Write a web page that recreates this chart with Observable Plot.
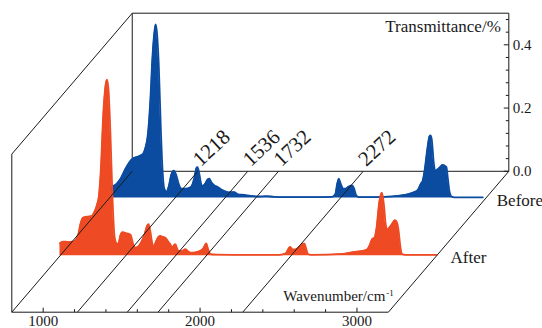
<!DOCTYPE html>
<html><head><meta charset="utf-8">
<script src="https://cdn.jsdelivr.net/npm/d3@7"></script>
<script src="https://cdn.jsdelivr.net/npm/@observablehq/plot@0.6"></script>
<style>html,body{margin:0;padding:0;background:#fff}#chart svg{display:block}</style>
</head><body><div id="chart"></div>
<script>
// ---- data ----
const wnBefore = [800,820,840,870,900,930,950,975,1000,1015,1030,1045,1060,1075,1088,1095,1102,1115,1128,1140,1150,1165,1180,1195,1212,1228,1245,1260,1290,1320,1340,1355,1362,1372,1385,1395,1410,1425,1437,1450,1470,1490,1520,1560,1595,1620,1660,1700,1750,1800,1850,1900,2000,2100,2220,2240,2252,2263,2275,2290,2305,2325,2345,2360,2372,2390,2500,2600,2650,2700,2740,2765,2785,2797,2810,2825,2840,2847,2855,2868,2880,2895,2912,2925,2935,2948,2958,2968,2980,3000,3100,3180];
const tBefore  = [0.035,0.038,0.042,0.06,0.09,0.115,0.125,0.13,0.135,0.14,0.16,0.2,0.3,0.45,0.53,0.549,0.53,0.42,0.22,0.08,0.03,0.02,0.04,0.075,0.087,0.07,0.04,0.03,0.03,0.035,0.06,0.095,0.098,0.08,0.045,0.038,0.045,0.058,0.061,0.05,0.04,0.035,0.025,0.018,0.019,0.012,0.01,0.007,0.005,0.006,0.004,0.003,0.003,0.003,0.004,0.012,0.045,0.061,0.045,0.03,0.03,0.036,0.04,0.03,0.01,0.003,0.003,0.005,0.008,0.012,0.018,0.025,0.045,0.055,0.09,0.15,0.195,0.198,0.185,0.11,0.087,0.092,0.1,0.105,0.103,0.098,0.06,0.02,0.005,0.002,0.002,0.002];
const wnAfter = [800,820,850,880,900,915,930,945,960,975,990,1005,1020,1035,1048,1060,1075,1088,1100,1110,1122,1135,1148,1160,1172,1185,1200,1218,1235,1250,1265,1280,1300,1320,1340,1355,1365,1375,1388,1398,1412,1428,1440,1455,1470,1490,1505,1515,1527,1536,1545,1556,1575,1600,1620,1640,1670,1695,1715,1732,1745,1760,1800,2000,2200,2240,2258,2268,2282,2300,2325,2345,2357,2368,2380,2400,2600,2670,2720,2756,2775,2788,2805,2818,2835,2852,2865,2876,2887,2900,2915,2936,2948,2958,2968,2980,3000,3200];
const tAfter  = [0.04,0.045,0.044,0.045,0.05,0.065,0.1,0.12,0.123,0.124,0.125,0.127,0.14,0.16,0.19,0.27,0.44,0.53,0.557,0.52,0.38,0.18,0.06,0.04,0.038,0.065,0.075,0.072,0.07,0.066,0.04,0.026,0.03,0.045,0.07,0.095,0.1,0.08,0.04,0.03,0.045,0.06,0.063,0.06,0.058,0.045,0.035,0.025,0.034,0.037,0.025,0.015,0.015,0.021,0.013,0.01,0.012,0.016,0.025,0.039,0.02,0.005,0.004,0.003,0.003,0.008,0.024,0.028,0.02,0.02,0.028,0.037,0.039,0.025,0.006,0.003,0.006,0.012,0.015,0.02,0.035,0.052,0.058,0.09,0.17,0.2,0.16,0.1,0.084,0.09,0.1,0.113,0.105,0.08,0.035,0.006,0.003,0.003];
const seriesNames = ["Before","After"];
const seriesDepth = [0.81, 0.40];
const seriesColors = ["#0b4ca1","#ee4a23"];
const peakLabels = [1218, 1536, 1732, 2272];
const xMajorTicks = [1000, 2000, 3000];
const xMinorTicks = [1200,1400,1600,1800,2200,2400,2600,2800];
const yMajorTicks = [0.0, 0.2, 0.4];
const yMinorTicks = [0.04,0.08,0.12,0.16,0.24,0.28,0.32,0.36,0.44,0.48];
const wMin = 800, wMax = 3200, tMax = 0.5;

// ---- oblique projection (depth expressed in data units) ----
const DW = 767.7;   // depth offset along wavenumber
const DT = 0.4457;  // depth offset along transmittance
const P = (w, t, d) => ({x: w + d * DW, y: t + d * DT});
const seg = (a, b) => ({x1: a.x, y1: a.y, x2: b.x, y2: b.y});

const spectra = [[wnBefore, tBefore], [wnAfter, tAfter]].map(([W, T], i) =>
  W.map((w, j) => ({x: P(w, 0, seriesDepth[i]).x, y0: P(w, 0, seriesDepth[i]).y, y: P(w, T[j], seriesDepth[i]).y})));

const backLines = [
  seg(P(wMin, 0, 1), P(wMin, tMax, 1)),
  seg(P(wMin, tMax, 1), P(wMax, tMax, 1)),
  seg(P(wMax, 0, 1), P(wMax, tMax, 1)),
  seg(P(wMin, 0, 1), P(wMax, 0, 1))
];
const frontLines = [
  seg(P(wMin, 0, 0), P(wMax, 0, 0)),
  seg(P(wMin, 0, 0), P(wMin, tMax, 0)),
  seg(P(wMin, tMax, 0), P(wMin, tMax, 1)),
  ...[wMin, ...peakLabels, wMax].map(w => seg(P(w, 0, 0), P(w, 0, 1)))
];
const pxT = 1 / 316.2, pxW = 1 / 0.1569;
const bottomTicks = [...xMajorTicks.map(w => ({w, len: 4.5})), ...xMinorTicks.map(w => ({w, len: 3}))]
  .map(d => seg(P(d.w, 0, 0), P(d.w, d.len * pxT, 0)));
const rightTicks = [...yMajorTicks.map(t => ({t, len: 5})), ...yMinorTicks.map(t => ({t, len: 3}))]
  .map(d => seg(P(wMax, d.t, 1), {x: P(wMax, d.t, 1).x - d.len * pxW, y: P(wMax, d.t, 1).y}));

const ink = "#1a1a1a";
const serif = "'Liberation Serif', 'Times New Roman', serif";

const marks = [
  Plot.link(backLines, {x1:"x1", y1:"y1", x2:"x2", y2:"y2", stroke: ink, strokeWidth: 1}),
  Plot.link(rightTicks, {x1:"x1", y1:"y1", x2:"x2", y2:"y2", stroke: ink, strokeWidth: 1}),
];
spectra.forEach((rows, i) => {
  marks.push(Plot.areaY(rows, {x:"x", y1:"y0", y2:"y", fill: seriesColors[i], curve:"monotone-x"}));
  marks.push(Plot.line(rows, {x:"x", y:"y", stroke: seriesColors[i], strokeWidth: 1.8, curve:"monotone-x"}));
  const last = rows[rows.length - 1];
  marks.push(Plot.text([seriesNames[i]], {x: last.x, y: last.y0, text: d => d, textAnchor:"start", dx: 14, dy: 2, fontSize: 17, fill: ink}));
});
marks.push(
  Plot.link(frontLines, {x1:"x1", y1:"y1", x2:"x2", y2:"y2", stroke: ink, strokeWidth: 1}),
  Plot.link(bottomTicks, {x1:"x1", y1:"y1", x2:"x2", y2:"y2", stroke: ink, strokeWidth: 1}),
  Plot.text(xMajorTicks, {x: w => P(w,0,0).x, y: w => P(w,0,0).y, text: d => String(d), lineAnchor:"bottom", dy: 13.5, fontSize: 15, fill: ink}),
  Plot.text(yMajorTicks, {x: t => P(wMax,t,1).x, y: t => P(wMax,t,1).y, text: d => d.toFixed(1), textAnchor:"start", dx: 4, fontSize: 15, fill: ink}),
  Plot.text(peakLabels, {x: w => P(w,0,1).x, y: w => P(w,0,1).y, text: d => String(d), textAnchor:"start", lineAnchor:"bottom", rotate: -43, dx: 3, dy: -4, fontSize: 21, fill: ink}),
  Plot.text(["Transmittance/%"], {x: P(wMax,tMax,1).x, y: P(wMax,tMax,1).y, text: d => d, textAnchor:"end", lineAnchor:"bottom", dx: -8, dy: 19, fontSize: 17, fill: ink}),
  Plot.text(["Wavenumber/cm"], {x: P(wMax,0,0).x, y: P(wMax,0,0).y, text: d => d, textAnchor:"end", lineAnchor:"bottom", dx: -3, dy: -11, fontSize: 15, fill: ink}),
  Plot.text(["-1"], {x: P(wMax,0,0).x, y: P(wMax,0,0).y, text: d => d, textAnchor:"start", lineAnchor:"bottom", dx: -2, dy: -16, fontSize: 9, fill: ink})
);

const chart = Plot.plot({
  width: 542, height: 328,
  marginLeft: 11.3, marginRight: 33.7, marginTop: 12.7, marginBottom: 16.3,
  x: {domain: [wMin, wMax + DW], axis: null},
  y: {domain: [0, tMax + DT], axis: null},
  style: {fontFamily: serif, background: "#fff", overflow: "visible"},
  marks
});
document.getElementById("chart").appendChild(chart);
</script></body></html>
